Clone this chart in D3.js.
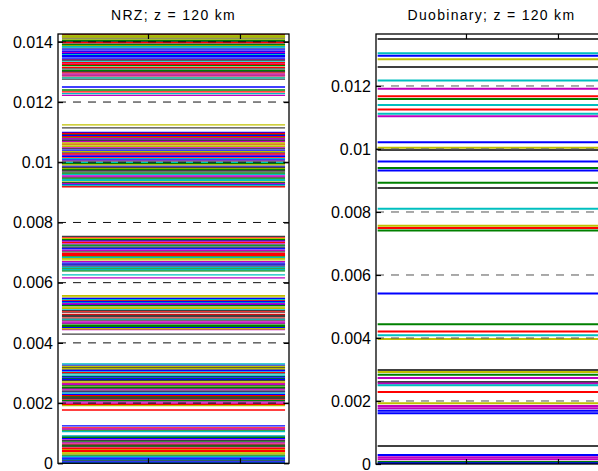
<!DOCTYPE html>
<html>
<head>
<meta charset="utf-8">
<script src="https://cdn.jsdelivr.net/npm/d3@7"></script>
<style>
  body { margin: 0; background: #fff; }
  svg { display: block; font-family: "Liberation Sans", Arial, Helvetica, sans-serif; }
</style>
</head>
<body>
<svg id="chart" width="598" height="471"></svg>
<script>
// NRZ eye-level samples, grouped by the band they fall into (bottom to top)
const nrzBand1 = [0.00124, 0.00110, 0.00118, 0.00105, 0.00114,
  0.00046, 0.00009, 0.00082, 0.00027, 0.00064, 0.00002, 0.00055, 0.00037, 0.00089, 0.00018,
  0.00071, 0.00043, 0.00012, 0.00078, 0.00031, 0.00060, 0.00005, 0.00086, 0.00050, 0.00022,
  0.00068, 0.00034, 0.00075, 0.00015, 0.00057, 0.00040, 0.00091];
const nrzBand2 = [0.00261, 0.00197, 0.00318, 0.00229, 0.00289, 0.00211, 0.00304, 0.00248, 0.00192,
  0.00275, 0.00326, 0.00221, 0.00266, 0.00298, 0.00204, 0.00253, 0.00313, 0.00237, 0.00282,
  0.00196, 0.00330, 0.00244, 0.00270, 0.00215, 0.00308, 0.00257, 0.00225, 0.00293, 0.00200,
  0.00322, 0.00240, 0.00279, 0.00208, 0.00301, 0.00233, 0.00264, 0.00315, 0.00218, 0.00286,
  0.00251, 0.00177];
const nrzBand3 = [0.00512, 0.00449, 0.00553, 0.00487, 0.00527, 0.00463, 0.00540, 0.00501, 0.00444,
  0.00519, 0.00476, 0.00548, 0.00458, 0.00495, 0.00534, 0.00470, 0.00557, 0.00507, 0.00452,
  0.00524, 0.00482, 0.00544, 0.00466, 0.00515, 0.00491, 0.00537, 0.00455, 0.00503, 0.00479,
  0.00530, 0.00447, 0.00429];
const nrzBand4 = [0.00712, 0.00648, 0.00751, 0.00683, 0.00729, 0.00661, 0.00702, 0.00740, 0.00639,
  0.00694, 0.00722, 0.00670, 0.00746, 0.00655, 0.00715, 0.00688, 0.00734, 0.00643, 0.00707,
  0.00676, 0.00754, 0.00665, 0.00725, 0.00697, 0.00651, 0.00738, 0.00680, 0.00718, 0.00659,
  0.00743, 0.00691, 0.00626, 0.00616];
const nrzBand5 = [0.01052, 0.00968, 0.01099, 0.00933, 0.01017, 0.01075, 0.00951, 0.01036, 0.00921,
  0.01088, 0.00995, 0.01060, 0.00943, 0.01024, 0.00979, 0.01093, 0.00927, 0.01045, 0.01004,
  0.00960, 0.01069, 0.00938, 0.01031, 0.00987, 0.01081, 0.00918, 0.01012, 0.00955, 0.01057,
  0.00973, 0.01040, 0.00947, 0.01096, 0.01000, 0.00930, 0.01064, 0.00983, 0.01020, 0.00964,
  0.01085, 0.00924, 0.01048, 0.00991, 0.01073, 0.01008, 0.00976, 0.01028, 0.00940, 0.01078,
  0.01124, 0.01114];
const nrzBand6 = [0.01351, 0.01418, 0.01297, 0.01384, 0.01327, 0.01409, 0.01276, 0.01362, 0.01423,
  0.01315, 0.01393, 0.01341, 0.01289, 0.01402, 0.01368, 0.01305, 0.01426, 0.01336, 0.01378,
  0.01283, 0.01413, 0.01346, 0.01321, 0.01397, 0.01357, 0.01293, 0.01388, 0.01310, 0.01373,
  0.01405, 0.01331, 0.01280, 0.01365, 0.01416, 0.01301, 0.01354, 0.01391, 0.01325, 0.01380,
  0.01287, 0.01420, 0.01339, 0.01250, 0.01240, 0.01234, 0.01228, 0.01222];

// Duobinary levels (top to bottom) and the colour key of each trace
const duoLevels = [0.01349, 0.01304, 0.01296, 0.01285, 0.01260, 0.01217, 0.01191, 0.01167, 0.01159,
  0.01140, 0.01125, 0.01112, 0.01104, 0.01021, 0.01004, 0.00997, 0.00960, 0.00940, 0.00932,
  0.00893, 0.00876, 0.00810, 0.00756, 0.00749, 0.00741, 0.00541, 0.00444, 0.00421, 0.00409,
  0.00397, 0.002984, 0.00292, 0.002835, 0.00273, 0.00260, 0.002556, 0.00250, 0.002286,
  0.001927, 0.001841, 0.001768, 0.001692, 0.001609, 0.000571, 0.000286, 0.000213, 0.000149,
  0.0000635, 0.000022];
const duoColorKeys = ['k', 'c', 'b', 'y', 'k', 'c', 'm', 'r', 'g',
  'c', 'r', 'c', 'm', 'b', 'y', 'k', 'b', 'g', 'b',
  'g', 'k', 'c', 'y', 'r', 'g', 'b', 'g', 'r', 'c',
  'y', 'k', 'y', 'g', 'm', 'k', 'm', 'c', 'r',
  'y', 'm', 'm', 'b', 'b', 'k', 'b', 'm', 'm',
  'g', 'b'];

const titles = ['NRZ; z = 120 km', 'Duobinary; z = 120 km'];
const yTicksNrz = [0, 0.002, 0.004, 0.006, 0.008, 0.01, 0.012, 0.014];
const yTicksDuo = [0, 0.002, 0.004, 0.006, 0.008, 0.01, 0.012];
const xTicks = [1, 2];
const xDomain = [0.022, 2.533];
const nrzSpan = [0.065, 2.49];
const duoSpan = [0.04, 2.52];

const colorCycle = ['b', 'g', 'r', 'c', 'm', 'y', 'k'];
const traceColor = d3.scaleOrdinal()
  .domain(colorCycle)
  .range(['#0000ff', '#008000', '#ff0000', '#00bfbf', '#bf00bf', '#bfbf00', '#404040']);

const svg = d3.select('#chart');

function drawPanel(opts) {
  const { left, top, width, height, yDomain, yTicks, traces, span, title, lineWidth, gridColor, id } = opts;
  const x = d3.scaleLinear().domain(xDomain).range([left, left + width]);
  const y = d3.scaleLinear().domain(yDomain).range([top + height, top]);

  svg.append('clipPath').attr('id', id)
    .append('rect').attr('x', left).attr('y', top).attr('width', width).attr('height', height);

  const plot = svg.append('g').attr('clip-path', `url(#${id})`);
  const line = d3.line().x(d => x(d[0])).y(d => y(d[1]));

  plot.selectAll('path.trace')
    .data(traces)
    .join('path')
    .attr('class', 'trace')
    .attr('d', t => line([[span[0], t.v], [span[1], t.v]]))
    .attr('fill', 'none')
    .attr('stroke', t => traceColor(t.key))
    .attr('stroke-width', lineWidth);

  // dashed horizontal grid
  plot.selectAll('line.grid')
    .data(yTicks.filter(v => v > yDomain[0]))
    .join('line')
    .attr('class', 'grid')
    .attr('x1', left).attr('x2', left + width)
    .attr('y1', v => y(v)).attr('y2', v => y(v))
    .attr('stroke', gridColor)
    .attr('stroke-width', 1)
    .attr('stroke-dasharray', '8,7');

  // frame
  svg.append('rect')
    .attr('x', left).attr('y', top).attr('width', width).attr('height', height)
    .attr('fill', 'none').attr('stroke', '#000').attr('stroke-width', 1.3);

  const tickLen = 5;
  // y axis on the left, ticks pointing inward
  const yAxisL = d3.axisRight(y).tickValues(yTicks).tickSize(tickLen).tickFormat('');
  svg.append('g').attr('transform', `translate(${left},0)`).call(yAxisL)
    .call(g => g.select('.domain').remove())
    .call(g => g.selectAll('line').attr('stroke', '#000').attr('stroke-width', 1.2));
  const yAxisR = d3.axisLeft(y).tickValues(yTicks).tickSize(tickLen).tickFormat('');
  svg.append('g').attr('transform', `translate(${left + width},0)`).call(yAxisR)
    .call(g => g.select('.domain').remove())
    .call(g => g.selectAll('line').attr('stroke', '#000').attr('stroke-width', 1.2));

  // tick labels
  svg.append('g').selectAll('text')
    .data(yTicks)
    .join('text')
    .attr('x', left - 5)
    .attr('y', v => y(v))
    .attr('dy', '0.36em')
    .attr('text-anchor', 'end')
    .attr('font-size', 16)
    .attr('fill', '#000')
    .text(v => String(v));

  // x ticks top and bottom, no labels
  const xAxisB = d3.axisTop(x).tickValues(xTicks).tickSize(tickLen).tickFormat('');
  svg.append('g').attr('transform', `translate(0,${top + height})`).call(xAxisB)
    .call(g => g.select('.domain').remove())
    .call(g => g.selectAll('line').attr('stroke', '#000').attr('stroke-width', 1.2));
  const xAxisT = d3.axisBottom(x).tickValues(xTicks).tickSize(tickLen).tickFormat('');
  svg.append('g').attr('transform', `translate(0,${top})`).call(xAxisT)
    .call(g => g.select('.domain').remove())
    .call(g => g.selectAll('line').attr('stroke', '#000').attr('stroke-width', 1.2));

  svg.append('text')
    .attr('x', left + width / 2)
    .attr('y', 20)
    .attr('text-anchor', 'middle')
    .attr('font-size', 14)
    .attr('letter-spacing', '1.3px')
    .attr('fill', '#000')
    .text(title);
}

const nrzLevels = [].concat(nrzBand1, nrzBand2, nrzBand3, nrzBand4, nrzBand5, nrzBand6);
const nrzTraces = nrzLevels.map((v, i) => ({ v, key: colorCycle[i % colorCycle.length] }));
const duoTraces = duoLevels.map((v, i) => ({ v, key: duoColorKeys[i] }));

drawPanel({
  id: 'clip-nrz', left: 58, top: 34, width: 231, height: 429.3,
  yDomain: [0, 0.01426], yTicks: yTicksNrz, traces: nrzTraces, span: nrzSpan,
  title: titles[0], lineWidth: 1.3, gridColor: '#111'
});
drawPanel({
  id: 'clip-duo', left: 376, top: 34, width: 231, height: 430,
  yDomain: [0, 0.01365], yTicks: yTicksDuo, traces: duoTraces, span: duoSpan,
  title: titles[1], lineWidth: 2, gridColor: '#555'
});
</script>
</body>
</html>
